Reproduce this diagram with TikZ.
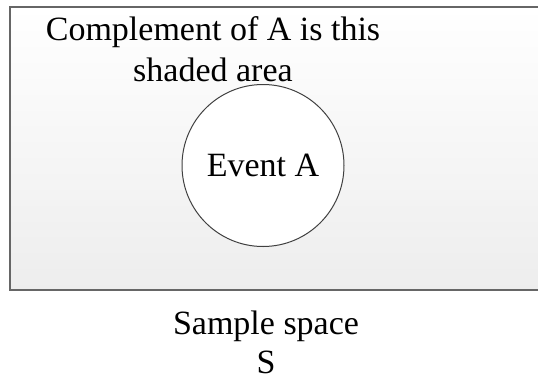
\documentclass[tikz,border=0pt]{standalone}
\usepackage{fontspec}
\setmainfont{Liberation Serif}
\begin{document}
\begin{tikzpicture}[x=1pt,y=-1pt,
    bigtext/.style={font=\fontsize{34}{41}\selectfont, inner sep=0pt, align=center}]
    \useasboundingbox (0,0) rectangle (538,381);
    \begin{scope}
        \draw[black!60, line width=1.6pt, top color=white, bottom color=black!7] (10,7) rectangle (548,290);
        \draw node (eventA) at (263,165.5) [bigtext, circle, draw=black!75, line width=1pt, fill=white, minimum size=162pt] {Event A};
        \draw node (complement) at (213,81.5) [bigtext, anchor=base] {Complement of A is this\\shaded area};
        \draw node (sample) at (266,373.5) [bigtext, anchor=base, font=\fontsize{34}{39}\selectfont] {Sample space\\S};
    \end{scope}
\end{tikzpicture}
\end{document}
